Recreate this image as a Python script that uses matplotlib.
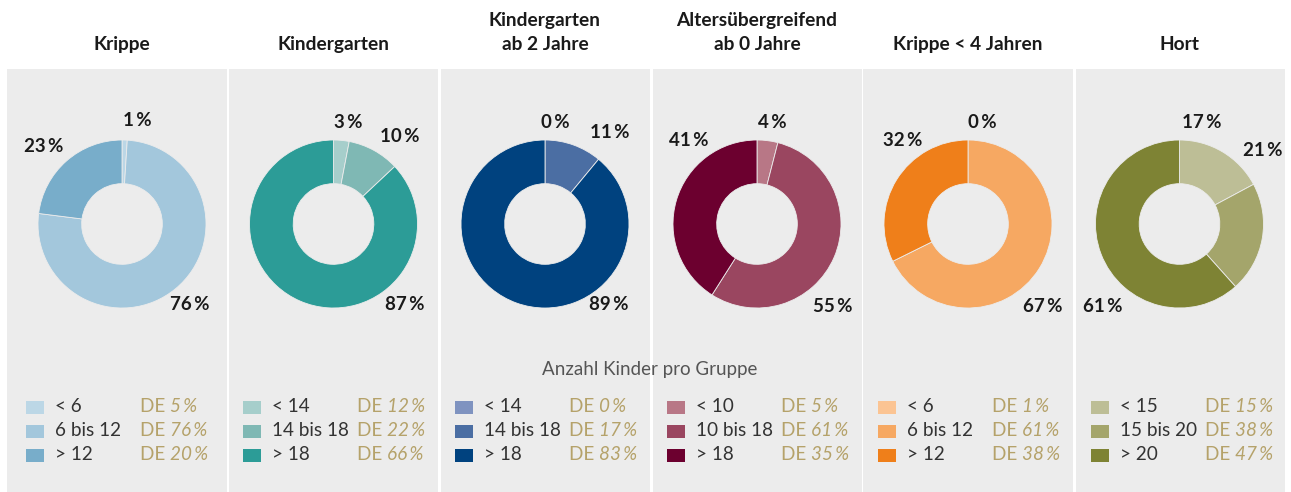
import matplotlib
matplotlib.use("Agg")
import matplotlib.pyplot as plt
from matplotlib.patches import Rectangle

plt.rcParams['font.family'] = ['Lato', 'DejaVu Sans']

# ---------------- data ----------------
titles = ["Krippe", "Kindergarten", "Kindergarten\nab 2 Jahre",
          "Altersübergreifend\nab 0 Jahre", "Krippe < 4 Jahren", "Hort"]
categories = [["< 6", "6 bis 12", "> 12"],
              ["< 14", "14 bis 18", "> 18"],
              ["< 14", "14 bis 18", "> 18"],
              ["< 10", "10 bis 18", "> 18"],
              ["< 6", "6 bis 12", "> 12"],
              ["< 15", "15 bis 20", "> 20"]]
shares = [[1, 76, 23],
          [3, 10, 87],
          [0, 11, 89],
          [4, 55, 41],
          [0, 67, 32],
          [17, 21, 61]]
de_shares = [[5, 76, 20],
             [12, 22, 66],
             [0, 17, 83],
             [5, 61, 35],
             [1, 61, 38],
             [15, 38, 47]]
colors = [["#bcd7e6", "#a3c7dc", "#78adca"],
          ["#a6cecb", "#7fb8b4", "#2c9c97"],
          ["#7f93c0", "#4b6ea3", "#00427f"],
          ["#b87786", "#9a4660", "#6c002f"],
          ["#fbc493", "#f6a862", "#ef7f1a"],
          ["#bdbe96", "#a4a56b", "#7e8334"]]
axis_title = "Anzahl Kinder pro Gruppe"

# ---------------- layout (pixels) ----------------
W, H = 1291, 492
panel_left = [7, 229, 441, 653, 863, 1076]
panel_right = [227, 438, 650, 862, 1073, 1285]
panel_top, panel_bottom = 69, 492
centers_x = [122, 333.5, 545, 757, 968, 1179.5]
center_y = 224
R_px = 84
legend_x = [26, 243, 455, 667, 878, 1091]
legend_rows = [407, 431, 455]
# label anchor offsets (px from donut centre) for each slice label
label_off = [[(15, -103), (68, 80), (-78, -77)],
             [(14.5, -101), (66.5, -88), (71.5, 80)],
             [(10.5, -102), (64.5, -91), (64, 80)],
             [(15, -102), (75.5, 82), (-68.5, -83)],
             [(14, -102), (75, 82), (-65, -83)],
             [(22, -102), (83.5, -74), (-76.5, 82)]]

BG = "#ececec"
GOLD = "#b5a26a"
TXT = "#333333"
FS_TITLE = 13.8
FS_LABEL = 13.5
FS_LEG = 13.6

fig = plt.figure(figsize=(W / 100, H / 100), dpi=100)
fig.patch.set_facecolor("white")
ov = fig.add_axes([0, 0, 1, 1])
ov.set_xlim(0, W)
ov.set_ylim(H, 0)
ov.axis("off")

for l, r in zip(panel_left, panel_right):
    ov.add_patch(Rectangle((l, panel_top), r - l, panel_bottom - panel_top,
                           facecolor=BG, edgecolor="none", zorder=0))

# titles (baseline of last line at y=50)
for cx, t in zip(centers_x, titles):
    lines = t.split("\n")
    for i, line in enumerate(reversed(lines)):
        ov.text(cx, 50 - 24 * i, line, ha="center", va="baseline",
                fontsize=FS_TITLE, fontweight="bold", color="#1a1a1a")

# donuts
half = 130
for p in range(6):
    cx = centers_x[p]
    ax = fig.add_axes([(cx - half) / W, 1 - (center_y + half) / H,
                       2 * half / W, 2 * half / H])
    ax.pie(shares[p], colors=colors[p], startangle=90, counterclock=False,
           radius=1, wedgeprops=dict(width=0.52, edgecolor=BG, linewidth=0.6))
    lim = half / R_px
    ax.set_xlim(-lim, lim)
    ax.set_ylim(-lim, lim)
    ax.set_aspect("equal")
    ax.axis("off")
    for v, (dx, dy) in zip(shares[p], label_off[p]):
        ov.text(cx + dx, center_y + dy, f"{v}\u2009%", ha="center",
                va="center", fontsize=FS_LABEL, fontweight="bold",
                color="#1a1a1a", zorder=5)

ov.text(650, 369, axis_title, ha="center", va="center", fontsize=13.5,
        color="#555555", zorder=5)

fig.canvas.draw()
renderer = fig.canvas.get_renderer()
inv = ov.transData.inverted()

for p in range(6):
    lx = legend_x[p]
    for i, y in enumerate(legend_rows):
        ov.add_patch(Rectangle((lx, y - 6.5), 18, 13,
                               facecolor=colors[p][i], edgecolor="none",
                               zorder=3))
        ov.text(lx + 29, y, categories[p][i], ha="left", va="center",
                fontsize=FS_LEG, color=TXT, zorder=4)
        t = ov.text(lx + 114, y, "DE ", ha="left", va="center",
                    fontsize=FS_LEG, color=GOLD, zorder=4)
        bb = t.get_window_extent(renderer)
        x1 = inv.transform((bb.x1, bb.y0))[0]
        ov.text(x1, y, f"{de_shares[p][i]}\u2009%", ha="left", va="center",
                fontsize=FS_LEG, color=GOLD, style="italic", zorder=4)

fig.savefig("out.png", dpi=100, facecolor="white")
